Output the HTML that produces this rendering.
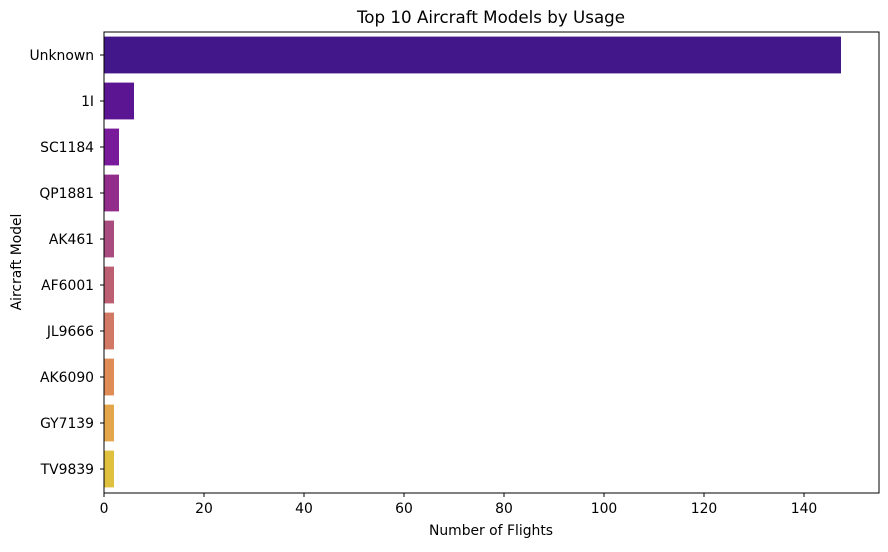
<!DOCTYPE html>
<html><head><meta charset="utf-8"><style>
body{margin:0;background:#fff;width:888px;height:547px;overflow:hidden}
text{font-family:"DejaVu Sans","Liberation Sans",sans-serif;fill:#000}
</style></head><body>
<svg id="chart" width="888" height="547" xmlns="http://www.w3.org/2000/svg">
<text x="491" y="23" font-size="16.7" text-anchor="middle">Top 10 Aircraft Models by Usage</text>
<text x="491" y="535" font-size="13.9" text-anchor="middle">Number of Flights</text>
<text x="0" y="0" font-size="13.9" text-anchor="middle" transform="translate(21,262) rotate(-90)">Aircraft Model</text>
<g id="bars"></g><g id="axes"></g>
</svg>
<script>
const categories=["Unknown","1I","SC1184","QP1881","AK461","AF6001","JL9666","AK6090","GY7139","TV9839"];
const values=[147.4,6,3,3,2,2,2,2,2,2];
const colors=["#42178a","#5c1592","#781a9a","#922d8c","#a84b7f","#bd5f72","#d27965","#df8c57","#e4a64a","#dfc13f"];
const xTicks=[0,20,40,60,80,100,120,140];
const NS="http://www.w3.org/2000/svg";
const L=104,R=879,T=32,B=493,step=46;
const x=v=>L+v*5;
const y=i=>T+step*(i+0.5);
const bars=document.getElementById('bars'),axes=document.getElementById('axes');
function mk(tag,attrs,parent){const e=document.createElementNS(NS,tag);for(const k in attrs)e.setAttribute(k,attrs[k]);parent.appendChild(e);return e;}
categories.forEach((c,i)=>{
  const r=mk('rect',{x:x(0),y:y(i)-18.4,width:x(values[i])-x(0),height:36.8,fill:colors[i]},bars);
  
  
  mk('line',{x1:L-4,x2:L,y1:y(i),y2:y(i),stroke:'#000'},axes);
  const t=mk('text',{x:L-10,y:y(i)+5,'font-size':13.9,'text-anchor':'end'},axes);
  t.textContent=c;
  
  
});
xTicks.forEach(v=>{
  mk('line',{x1:x(v),x2:x(v),y1:B,y2:B+4,stroke:'#000'},axes);
  const t=mk('text',{x:x(v),y:B+20,'font-size':13.9,'text-anchor':'middle'},axes);
  t.textContent=v;
  
  
});
mk('rect',{x:L,y:T,width:R-L,height:B-T,fill:'none',stroke:'#000','stroke-width':1},axes);
</script>
</body></html>
